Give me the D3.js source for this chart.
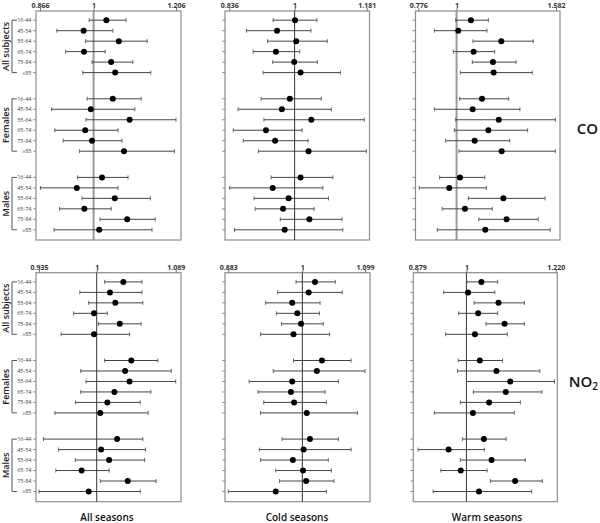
<!DOCTYPE html>
<html><head><meta charset="utf-8">
<script src="https://cdn.jsdelivr.net/npm/d3@7"></script>
<style>body{margin:0;background:#fff}svg{display:block}</style>
</head><body><svg id="c" width="600" height="523"></svg>
<script>
// ---------- data ----------
const ageGroups = ["16-44","45-54","55-64","65-74","75-84","≥85"];
const subjectGroups = ["All subjects","Females","Males"];
const pollutants = ["CO","NO2"];
const seasons = ["All seasons","Cold seasons","Warm seasons"];
const coTicks = [["0.866","1","1.206"],["0.836","1","1.181"],["0.776","1","1.582"]];
const no2Ticks = [["0.935","1","1.089"],["0.883","1","1.099"],["0.879","1","1.220"]];

// [estimate, lower CI, upper CI] ; order: All subjects (6 ages), Females (6), Males (6)
const coAll = [
 [1.032,0.989,1.081],[0.975,0.908,1.048],[1.063,0.980,1.134],[0.976,0.930,1.029],[1.044,0.996,1.098],[1.054,0.973,1.143],
 [1.048,0.984,1.119],[0.993,0.895,1.103],[1.090,0.981,1.206],[0.979,0.903,1.061],[0.996,0.924,1.071],[1.076,0.965,1.202],
 [1.021,0.960,1.086],[0.958,0.867,1.061],[1.053,0.971,1.142],[0.977,0.915,1.044],[1.084,1.016,1.154],[1.014,0.901,1.146]];
const coCold = [
 [1.001,0.946,1.056],[0.956,0.879,1.041],[1.004,0.932,1.082],[0.953,0.896,1.013],[0.999,0.945,1.057],[1.015,0.921,1.115],
 [0.988,0.916,1.067],[0.968,0.858,1.092],[1.042,0.923,1.175],[0.928,0.846,1.019],[0.951,0.871,1.034],[1.035,0.909,1.180],
 [1.015,0.941,1.096],[0.945,0.837,1.071],[0.985,0.898,1.085],[0.971,0.901,1.049],[1.037,0.964,1.119],[0.975,0.849,1.121]];
const coWarm = [
 [1.084,0.995,1.186],[1.010,0.870,1.178],[1.262,1.096,1.449],[1.100,0.981,1.223],[1.213,1.092,1.348],[1.217,1.022,1.443],
 [1.149,1.018,1.305],[1.094,0.870,1.371],[1.247,0.995,1.578],[1.186,0.987,1.416],[1.106,0.936,1.311],[1.264,1.014,1.578],
 [1.020,0.901,1.165],[0.957,0.782,1.174],[1.274,1.069,1.518],[1.049,0.916,1.209],[1.293,1.130,1.478],[1.168,0.887,1.548]];
const no2All = [
 [1.030,1.009,1.051],[1.015,0.981,1.051],[1.021,0.991,1.052],[0.997,0.974,1.012],[1.026,1.002,1.050],[0.997,0.960,1.037],
 [1.039,1.009,1.069],[1.032,0.982,1.084],[1.037,0.988,1.089],[1.020,0.982,1.061],[1.012,0.976,1.049],[1.004,0.953,1.058],
 [1.023,0.940,1.052],[1.005,0.957,1.055],[1.014,0.976,1.054],[0.983,0.954,1.014],[1.035,1.004,1.067],[0.991,0.935,1.049]];
const no2Cold = [
 [1.020,0.990,1.052],[1.010,0.961,1.063],[0.984,0.942,1.028],[0.992,0.959,1.027],[0.998,0.967,1.033],[0.986,0.934,1.043],
 [1.031,0.986,1.077],[1.023,0.954,1.099],[0.984,0.916,1.057],[0.982,0.930,1.036],[0.987,0.939,1.038],[1.007,0.934,1.087],
 [1.012,0.968,1.057],[1.002,0.932,1.077],[0.985,0.934,1.041],[1.001,0.958,1.046],[1.006,0.964,1.050],[0.958,0.883,1.038]];
const no2Warm = [
 [1.037,1.001,1.077],[1.004,0.944,1.070],[1.079,1.019,1.143],[1.029,0.981,1.077],[1.094,1.048,1.143],[1.021,0.949,1.101],
 [1.033,0.980,1.089],[1.074,0.978,1.181],[1.108,1.000,1.217],[1.097,1.017,1.186],[1.056,0.985,1.133],[1.016,0.921,1.118],
 [1.043,0.990,1.098],[0.956,0.881,1.044],[1.062,0.985,1.145],[0.986,0.937,1.051],[1.120,1.059,1.187],[1.031,0.918,1.161]];

// ---------- drawing ----------
const svg = d3.select("#c");
const rows = [
  {name:"CO", panels:[coAll,coCold,coWarm], ticks:coTicks, top:11,
   boxes:[[36,181],[225,369.5],[415.5,560]],
   tickRanges:[[40,176],[229.3,366.7],[418.3,556]],
   refStyle:[["#9a9a9a",2],["#333",1],["#9a9a9a",2]]},
  {name:"NO2", panels:[no2All,no2Cold,no2Warm], ticks:no2Ticks, top:272.7,
   boxes:[[36,181],[225,370],[413.3,557.3]],
   tickRanges:[[39,175.7],[228.3,365],[417.3,555.7]],
   refStyle:[["#333",1],["#333",1],["#333",1]]}
];

const slot = (g,i) => g*7.5 + i;
const BOXH = 229;

rows.forEach((R, ri) => {
  const top = R.top, bottom = top + BOXH;
  const y = d3.scaleLinear().domain([0,20]).range([top+9.2, top+218.8]);
  R.panels.forEach((data, ci) => {
    const tv = R.ticks[ci].map(Number);
    const x = d3.scaleLinear().domain([tv[0], tv[2]]).range(R.tickRanges[ci]);
    const [bl, br] = R.boxes[ci];
    const g = svg.append("g");
    g.append("rect").attr("x", bl).attr("y", top).attr("width", br-bl).attr("height", bottom-top)
      .attr("fill","none").attr("stroke","#8c8c8c").attr("stroke-width",1.2);
    // top axis
    const ax = d3.axisTop(x).tickValues(tv).tickSize(3).tickPadding(2).tickFormat((d,i)=>R.ticks[ci][i]);
    const axg = g.append("g").attr("transform",`translate(0,${top})`).call(ax);
    axg.select(".domain").remove();
    axg.selectAll("line").attr("stroke","#777");
    axg.selectAll("text").attr("font-family","'Open Sans', sans-serif").attr("font-size","7px")
      .attr("font-weight","bold").attr("fill","#333").attr("dy","0.3em");
    // reference line
    g.append("line").attr("x1",x(1)).attr("x2",x(1)).attr("y1",top).attr("y2",bottom)
      .attr("stroke",R.refStyle[ci][0]).attr("stroke-width",R.refStyle[ci][1]);
    // left ticks
    const allRows = [];
    subjectGroups.forEach((sg,gi)=>ageGroups.forEach((a,ai)=>allRows.push({gi,ai,d:data[gi*6+ai]})));
    g.selectAll(".lt").data(allRows).enter().append("line")
      .attr("x1",bl-3).attr("x2",bl).attr("y1",r=>y(slot(r.gi,r.ai))).attr("y2",r=>y(slot(r.gi,r.ai)))
      .attr("stroke","#777").attr("stroke-width",0.8);
    // error bars
    const eb = g.selectAll(".eb").data(allRows).enter().append("g");
    eb.append("line").attr("x1",r=>x(r.d[1])).attr("x2",r=>x(r.d[2]))
      .attr("y1",r=>y(slot(r.gi,r.ai))).attr("y2",r=>y(slot(r.gi,r.ai)))
      .attr("stroke","#444").attr("stroke-width",1);
    [1,2].forEach(k=>{
      eb.append("line").attr("x1",r=>x(r.d[k])).attr("x2",r=>x(r.d[k]))
        .attr("y1",r=>y(slot(r.gi,r.ai))-2).attr("y2",r=>y(slot(r.gi,r.ai))+2)
        .attr("stroke","#555").attr("stroke-width",0.9);
    });
    eb.append("circle").attr("cx",r=>x(r.d[0])).attr("cy",r=>y(slot(r.gi,r.ai))).attr("r",3).attr("fill","#000");

    if (ci === 0) {
      // row labels
      g.selectAll(".rl").data(allRows).enter().append("text")
        .attr("x",bl-4.5).attr("y",r=>y(slot(r.gi,r.ai))).attr("dy","0.35em")
        .attr("text-anchor","end").attr("font-family","'Open Sans', sans-serif")
        .attr("font-size","5.5px").attr("fill","#444").text(r=>ageGroups[r.ai]);
      subjectGroups.forEach((sg,gi)=>{
        const y0 = y(slot(gi,0)), y1 = y(slot(gi,5));
        g.append("path").attr("d",`M17,${y0}H12V${y1}H17`).attr("fill","none")
          .attr("stroke","#555").attr("stroke-width",1);
        g.append("text").attr("transform",`translate(8.5,${(y0+y1)/2}) rotate(-90)`)
          .attr("text-anchor","middle").attr("font-family","'Open Sans', sans-serif")
          .attr("font-size","9px").attr("font-weight","600").attr("fill","#222").text(sg);
      });
    }
  });
  // pollutant label
  const py = ri === 0 ? 134 : 387;
  const t = svg.append("text").attr("x",598).attr("y",py).attr("text-anchor","end")
    .attr("font-family","'Open Sans', sans-serif").attr("font-size","15px").attr("font-weight","600").attr("fill","#111");
  if (R.name === "NO2") {
    t.append("tspan").text("NO");
    t.append("tspan").attr("dy","3").attr("font-size","10px").text("2");
  } else t.text(R.name);
});

// season labels
const seasonX = [107, 297, 487];
seasons.forEach((s,i)=>{
  svg.append("text").attr("x",seasonX[i]).attr("y",521).attr("text-anchor","middle")
    .attr("font-family","'Open Sans', sans-serif").attr("font-size","10px").attr("font-weight","600")
    .attr("fill","#111").text(s);
});
</script></body></html>
